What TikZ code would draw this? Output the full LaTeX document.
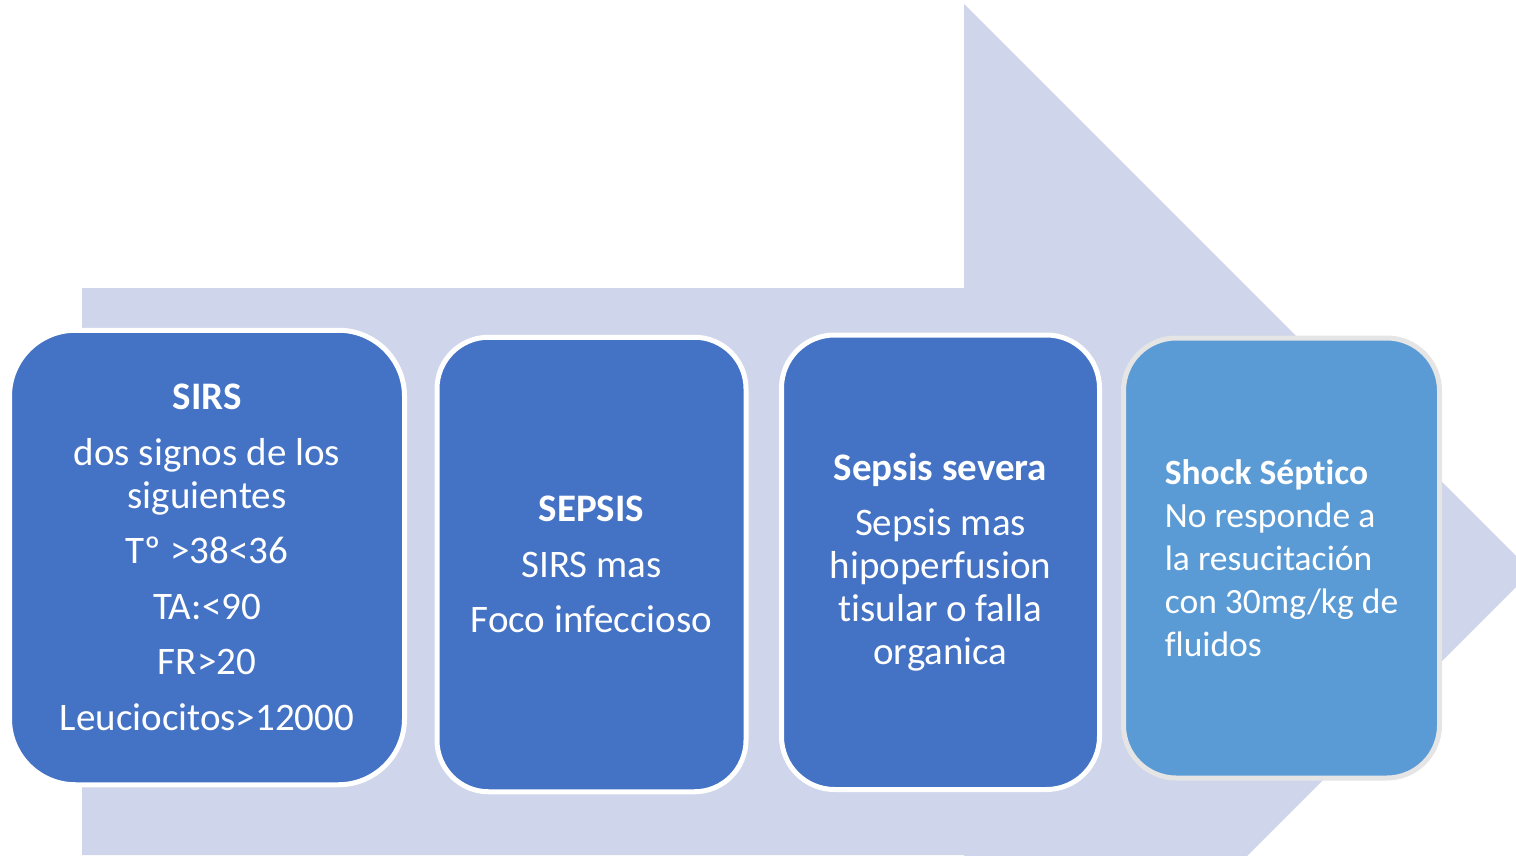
\documentclass[tikz,border=0pt]{standalone}
\usepackage{fontspec}
\setmainfont[Ligatures=CommonOff]{Carlito}
\definecolor{arrowbg}{HTML}{CFD5EA}
\definecolor{darkblue}{HTML}{4472C4}
\definecolor{lightblue}{HTML}{5B9BD5}
\definecolor{greyedge}{HTML}{E5E5E5}
\tikzset{
  stagebox/.style={draw=white, line width=5pt, fill=darkblue, text=white,
    inner sep=0pt, align=center, font=\fontsize{39}{43}\selectfont},
  lastbox/.style={stagebox, draw=greyedge, fill=lightblue, align=left,
    font=\fontsize{35.5}{43}\selectfont}
}
\begin{document}
\begin{tikzpicture}[x=1pt,y=-1pt]
\useasboundingbox (0,0) rectangle (1516,856);
\begin{scope}
\clip (0,0) rectangle (1516,856);
\fill[arrowbg] (82,288) -- (964,288) -- (964,4) -- (1531.5,571.5) -- (964,1139) -- (964,855) -- (82,855) -- cycle;
\end{scope}
\node[stagebox, minimum width=395pt, minimum height=454.5pt, rounded corners=66pt] (sirs) at (207,557.5)
  {\textbf{SIRS}\\[12.5pt]dos signos de los\\siguientes\\[12.5pt]Tº >38<36\\[12.5pt]TA:<90\\[12.5pt]FR>20\\[12.5pt]Leuciocitos>12000};
\node[stagebox, minimum width=309pt, minimum height=454.5pt, rounded corners=51.5pt] (sepsis) at (591.5,564.5)
  {\textbf{SEPSIS}\\[12.5pt]SIRS mas\\[12.5pt]Foco infeccioso};
\node[stagebox, minimum width=318pt, minimum height=454.5pt, rounded corners=53pt] (severa) at (940.5,562.25)
  {\textbf{Sepsis severa}\\[12.5pt]Sepsis mas\\hipoperfusion\\tisular o falla\\organica};
\node[lastbox, minimum width=316pt, minimum height=440pt, rounded corners=52.7pt] (shock) at (1281.5,558)
  {\textbf{Shock Séptico}\\No responde a\\la resucitación\\con 30mg/kg de\\fluidos};
\end{tikzpicture}
\end{document}
